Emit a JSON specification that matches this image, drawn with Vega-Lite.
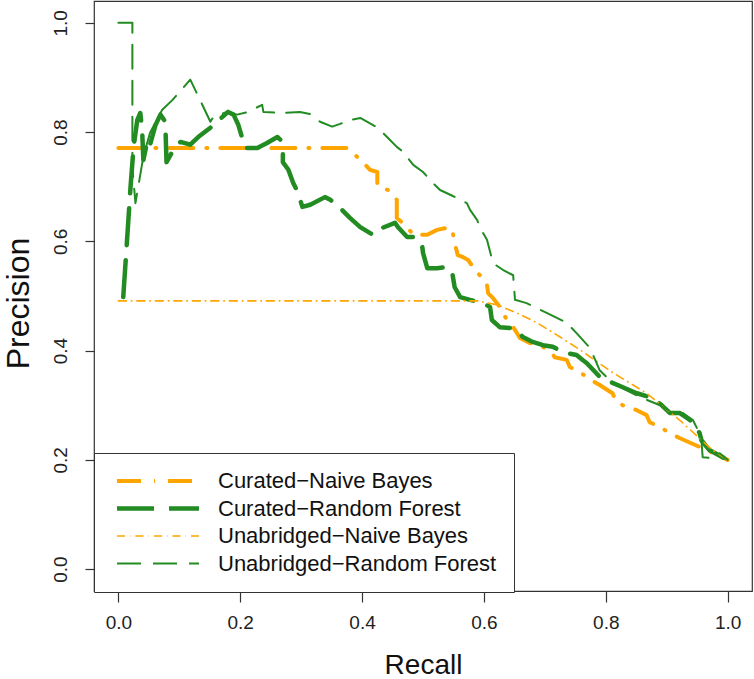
{
  "$schema": "https://vega.github.io/schema/vega-lite/v6.json",
  "width": 658,
  "height": 590,
  "autosize": {"type": "none"},
  "padding": {"left": 94, "top": 1, "right": 2, "bottom": 88},
  "config": {
    "font": "Liberation Sans",
    "view": {"stroke": "#333", "strokeWidth": 1.2}
  },
  "data": {
    "values": [
      {"series": "Curated−Naive Bayes", "recall": 0.0, "precision": 0.771},
      {"series": "Curated−Naive Bayes", "recall": 0.375, "precision": 0.771},
      {"series": "Curated−Naive Bayes", "recall": 0.385, "precision": 0.762},
      {"series": "Curated−Naive Bayes", "recall": 0.402, "precision": 0.744},
      {"series": "Curated−Naive Bayes", "recall": 0.413, "precision": 0.731},
      {"series": "Curated−Naive Bayes", "recall": 0.425, "precision": 0.727},
      {"series": "Curated−Naive Bayes", "recall": 0.425, "precision": 0.703},
      {"series": "Curated−Naive Bayes", "recall": 0.43, "precision": 0.698},
      {"series": "Curated−Naive Bayes", "recall": 0.443, "precision": 0.694},
      {"series": "Curated−Naive Bayes", "recall": 0.457, "precision": 0.676},
      {"series": "Curated−Naive Bayes", "recall": 0.457, "precision": 0.643},
      {"series": "Curated−Naive Bayes", "recall": 0.474, "precision": 0.626},
      {"series": "Curated−Naive Bayes", "recall": 0.484, "precision": 0.612},
      {"series": "Curated−Naive Bayes", "recall": 0.507, "precision": 0.612},
      {"series": "Curated−Naive Bayes", "recall": 0.523, "precision": 0.621},
      {"series": "Curated−Naive Bayes", "recall": 0.544, "precision": 0.626},
      {"series": "Curated−Naive Bayes", "recall": 0.549, "precision": 0.615},
      {"series": "Curated−Naive Bayes", "recall": 0.552, "precision": 0.597},
      {"series": "Curated−Naive Bayes", "recall": 0.557, "precision": 0.575},
      {"series": "Curated−Naive Bayes", "recall": 0.566, "precision": 0.571},
      {"series": "Curated−Naive Bayes", "recall": 0.574, "precision": 0.566},
      {"series": "Curated−Naive Bayes", "recall": 0.582, "precision": 0.553},
      {"series": "Curated−Naive Bayes", "recall": 0.589, "precision": 0.542},
      {"series": "Curated−Naive Bayes", "recall": 0.597, "precision": 0.535},
      {"series": "Curated−Naive Bayes", "recall": 0.605, "precision": 0.52},
      {"series": "Curated−Naive Bayes", "recall": 0.607, "precision": 0.505},
      {"series": "Curated−Naive Bayes", "recall": 0.615, "precision": 0.496},
      {"series": "Curated−Naive Bayes", "recall": 0.626, "precision": 0.48},
      {"series": "Curated−Naive Bayes", "recall": 0.631, "precision": 0.469},
      {"series": "Curated−Naive Bayes", "recall": 0.638, "precision": 0.456},
      {"series": "Curated−Naive Bayes", "recall": 0.648, "precision": 0.443},
      {"series": "Curated−Naive Bayes", "recall": 0.656, "precision": 0.429},
      {"series": "Curated−Naive Bayes", "recall": 0.659, "precision": 0.423},
      {"series": "Curated−Naive Bayes", "recall": 0.675, "precision": 0.414},
      {"series": "Curated−Naive Bayes", "recall": 0.692, "precision": 0.41},
      {"series": "Curated−Naive Bayes", "recall": 0.711, "precision": 0.397},
      {"series": "Curated−Naive Bayes", "recall": 0.716, "precision": 0.388},
      {"series": "Curated−Naive Bayes", "recall": 0.736, "precision": 0.383},
      {"series": "Curated−Naive Bayes", "recall": 0.741, "precision": 0.37},
      {"series": "Curated−Naive Bayes", "recall": 0.752, "precision": 0.364},
      {"series": "Curated−Naive Bayes", "recall": 0.769, "precision": 0.352},
      {"series": "Curated−Naive Bayes", "recall": 0.782, "precision": 0.342},
      {"series": "Curated−Naive Bayes", "recall": 0.79, "precision": 0.337},
      {"series": "Curated−Naive Bayes", "recall": 0.811, "precision": 0.322},
      {"series": "Curated−Naive Bayes", "recall": 0.818, "precision": 0.306},
      {"series": "Curated−Naive Bayes", "recall": 0.828, "precision": 0.3},
      {"series": "Curated−Naive Bayes", "recall": 0.851, "precision": 0.291},
      {"series": "Curated−Naive Bayes", "recall": 0.867, "precision": 0.282},
      {"series": "Curated−Naive Bayes", "recall": 0.872, "precision": 0.269},
      {"series": "Curated−Naive Bayes", "recall": 0.889, "precision": 0.26},
      {"series": "Curated−Naive Bayes", "recall": 0.905, "precision": 0.249},
      {"series": "Curated−Naive Bayes", "recall": 0.921, "precision": 0.24},
      {"series": "Curated−Naive Bayes", "recall": 0.943, "precision": 0.229},
      {"series": "Curated−Naive Bayes", "recall": 0.966, "precision": 0.218},
      {"series": "Curated−Naive Bayes", "recall": 1.0, "precision": 0.2},

      {"series": "Curated−Random Forest", "recall": 0.008, "precision": 0.498},
      {"series": "Curated−Random Forest", "recall": 0.015, "precision": 0.615},
      {"series": "Curated−Random Forest", "recall": 0.02, "precision": 0.7},
      {"series": "Curated−Random Forest", "recall": 0.025, "precision": 0.773},
      {"series": "Curated−Random Forest", "recall": 0.031, "precision": 0.822},
      {"series": "Curated−Random Forest", "recall": 0.036, "precision": 0.835},
      {"series": "Curated−Random Forest", "recall": 0.039, "precision": 0.804},
      {"series": "Curated−Random Forest", "recall": 0.041, "precision": 0.749},
      {"series": "Curated−Random Forest", "recall": 0.048, "precision": 0.786},
      {"series": "Curated−Random Forest", "recall": 0.052, "precision": 0.777},
      {"series": "Curated−Random Forest", "recall": 0.061, "precision": 0.813},
      {"series": "Curated−Random Forest", "recall": 0.069, "precision": 0.832},
      {"series": "Curated−Random Forest", "recall": 0.077, "precision": 0.819},
      {"series": "Curated−Random Forest", "recall": 0.079, "precision": 0.745},
      {"series": "Curated−Random Forest", "recall": 0.093, "precision": 0.773},
      {"series": "Curated−Random Forest", "recall": 0.102, "precision": 0.782},
      {"series": "Curated−Random Forest", "recall": 0.118, "precision": 0.777},
      {"series": "Curated−Random Forest", "recall": 0.131, "precision": 0.791},
      {"series": "Curated−Random Forest", "recall": 0.151, "precision": 0.808},
      {"series": "Curated−Random Forest", "recall": 0.18, "precision": 0.837},
      {"series": "Curated−Random Forest", "recall": 0.189, "precision": 0.832},
      {"series": "Curated−Random Forest", "recall": 0.197, "precision": 0.813},
      {"series": "Curated−Random Forest", "recall": 0.208, "precision": 0.771},
      {"series": "Curated−Random Forest", "recall": 0.228, "precision": 0.771},
      {"series": "Curated−Random Forest", "recall": 0.244, "precision": 0.78},
      {"series": "Curated−Random Forest", "recall": 0.261, "precision": 0.791},
      {"series": "Curated−Random Forest", "recall": 0.266, "precision": 0.786},
      {"series": "Curated−Random Forest", "recall": 0.27, "precision": 0.767},
      {"series": "Curated−Random Forest", "recall": 0.27, "precision": 0.745},
      {"series": "Curated−Random Forest", "recall": 0.279, "precision": 0.731},
      {"series": "Curated−Random Forest", "recall": 0.287, "precision": 0.707},
      {"series": "Curated−Random Forest", "recall": 0.295, "precision": 0.689},
      {"series": "Curated−Random Forest", "recall": 0.302, "precision": 0.663},
      {"series": "Curated−Random Forest", "recall": 0.315, "precision": 0.667},
      {"series": "Curated−Random Forest", "recall": 0.339, "precision": 0.681},
      {"series": "Curated−Random Forest", "recall": 0.348, "precision": 0.676},
      {"series": "Curated−Random Forest", "recall": 0.364, "precision": 0.661},
      {"series": "Curated−Random Forest", "recall": 0.38, "precision": 0.643},
      {"series": "Curated−Random Forest", "recall": 0.397, "precision": 0.626},
      {"series": "Curated−Random Forest", "recall": 0.418, "precision": 0.612},
      {"series": "Curated−Random Forest", "recall": 0.434, "precision": 0.625},
      {"series": "Curated−Random Forest", "recall": 0.454, "precision": 0.634},
      {"series": "Curated−Random Forest", "recall": 0.459, "precision": 0.626},
      {"series": "Curated−Random Forest", "recall": 0.474, "precision": 0.608},
      {"series": "Curated−Random Forest", "recall": 0.484, "precision": 0.608},
      {"series": "Curated−Random Forest", "recall": 0.498, "precision": 0.597},
      {"series": "Curated−Random Forest", "recall": 0.5, "precision": 0.579},
      {"series": "Curated−Random Forest", "recall": 0.507, "precision": 0.551},
      {"series": "Curated−Random Forest", "recall": 0.523, "precision": 0.551},
      {"series": "Curated−Random Forest", "recall": 0.541, "precision": 0.553},
      {"series": "Curated−Random Forest", "recall": 0.548, "precision": 0.542},
      {"series": "Curated−Random Forest", "recall": 0.552, "precision": 0.516},
      {"series": "Curated−Random Forest", "recall": 0.561, "precision": 0.498},
      {"series": "Curated−Random Forest", "recall": 0.577, "precision": 0.493},
      {"series": "Curated−Random Forest", "recall": 0.598, "precision": 0.487},
      {"series": "Curated−Random Forest", "recall": 0.61, "precision": 0.48},
      {"series": "Curated−Random Forest", "recall": 0.613, "precision": 0.456},
      {"series": "Curated−Random Forest", "recall": 0.626, "precision": 0.443},
      {"series": "Curated−Random Forest", "recall": 0.648, "precision": 0.441},
      {"series": "Curated−Random Forest", "recall": 0.664, "precision": 0.425},
      {"series": "Curated−Random Forest", "recall": 0.68, "precision": 0.416},
      {"series": "Curated−Random Forest", "recall": 0.697, "precision": 0.41},
      {"series": "Curated−Random Forest", "recall": 0.713, "precision": 0.407},
      {"series": "Curated−Random Forest", "recall": 0.73, "precision": 0.397},
      {"series": "Curated−Random Forest", "recall": 0.752, "precision": 0.392},
      {"series": "Curated−Random Forest", "recall": 0.762, "precision": 0.383},
      {"series": "Curated−Random Forest", "recall": 0.769, "precision": 0.377},
      {"series": "Curated−Random Forest", "recall": 0.79, "precision": 0.352},
      {"series": "Curated−Random Forest", "recall": 0.811, "precision": 0.341},
      {"series": "Curated−Random Forest", "recall": 0.828, "precision": 0.333},
      {"series": "Curated−Random Forest", "recall": 0.851, "precision": 0.322},
      {"series": "Curated−Random Forest", "recall": 0.877, "precision": 0.313},
      {"series": "Curated−Random Forest", "recall": 0.892, "precision": 0.3},
      {"series": "Curated−Random Forest", "recall": 0.905, "precision": 0.286},
      {"series": "Curated−Random Forest", "recall": 0.921, "precision": 0.286},
      {"series": "Curated−Random Forest", "recall": 0.938, "precision": 0.273},
      {"series": "Curated−Random Forest", "recall": 0.946, "precision": 0.264},
      {"series": "Curated−Random Forest", "recall": 0.954, "precision": 0.249},
      {"series": "Curated−Random Forest", "recall": 0.957, "precision": 0.236},
      {"series": "Curated−Random Forest", "recall": 0.97, "precision": 0.218},
      {"series": "Curated−Random Forest", "recall": 1.0, "precision": 0.2},

      {"series": "Unabridged−Naive Bayes", "recall": 0.0, "precision": 0.491},
      {"series": "Unabridged−Naive Bayes", "recall": 0.59, "precision": 0.491},
      {"series": "Unabridged−Naive Bayes", "recall": 0.621, "precision": 0.484},
      {"series": "Unabridged−Naive Bayes", "recall": 0.654, "precision": 0.469},
      {"series": "Unabridged−Naive Bayes", "recall": 0.687, "precision": 0.451},
      {"series": "Unabridged−Naive Bayes", "recall": 0.725, "precision": 0.425},
      {"series": "Unabridged−Naive Bayes", "recall": 0.757, "precision": 0.402},
      {"series": "Unabridged−Naive Bayes", "recall": 0.811, "precision": 0.36},
      {"series": "Unabridged−Naive Bayes", "recall": 0.867, "precision": 0.322},
      {"series": "Unabridged−Naive Bayes", "recall": 0.921, "precision": 0.273},
      {"series": "Unabridged−Naive Bayes", "recall": 0.975, "precision": 0.218},
      {"series": "Unabridged−Naive Bayes", "recall": 1.0, "precision": 0.2},

      {"series": "Unabridged−Random Forest", "recall": 0.0, "precision": 1.0},
      {"series": "Unabridged−Random Forest", "recall": 0.023, "precision": 1.0},
      {"series": "Unabridged−Random Forest", "recall": 0.023, "precision": 0.736},
      {"series": "Unabridged−Random Forest", "recall": 0.028, "precision": 0.67},
      {"series": "Unabridged−Random Forest", "recall": 0.041, "precision": 0.755},
      {"series": "Unabridged−Random Forest", "recall": 0.052, "precision": 0.799},
      {"series": "Unabridged−Random Forest", "recall": 0.072, "precision": 0.841},
      {"series": "Unabridged−Random Forest", "recall": 0.089, "precision": 0.859},
      {"series": "Unabridged−Random Forest", "recall": 0.118, "precision": 0.896},
      {"series": "Unabridged−Random Forest", "recall": 0.134, "precision": 0.859},
      {"series": "Unabridged−Random Forest", "recall": 0.151, "precision": 0.819},
      {"series": "Unabridged−Random Forest", "recall": 0.156, "precision": 0.828},
      {"series": "Unabridged−Random Forest", "recall": 0.179, "precision": 0.837},
      {"series": "Unabridged−Random Forest", "recall": 0.195, "precision": 0.832},
      {"series": "Unabridged−Random Forest", "recall": 0.213, "precision": 0.837},
      {"series": "Unabridged−Random Forest", "recall": 0.236, "precision": 0.85},
      {"series": "Unabridged−Random Forest", "recall": 0.238, "precision": 0.837},
      {"series": "Unabridged−Random Forest", "recall": 0.27, "precision": 0.835},
      {"series": "Unabridged−Random Forest", "recall": 0.298, "precision": 0.837},
      {"series": "Unabridged−Random Forest", "recall": 0.315, "precision": 0.833},
      {"series": "Unabridged−Random Forest", "recall": 0.331, "precision": 0.819},
      {"series": "Unabridged−Random Forest", "recall": 0.351, "precision": 0.81},
      {"series": "Unabridged−Random Forest", "recall": 0.364, "precision": 0.815},
      {"series": "Unabridged−Random Forest", "recall": 0.38, "precision": 0.822},
      {"series": "Unabridged−Random Forest", "recall": 0.397, "precision": 0.826},
      {"series": "Unabridged−Random Forest", "recall": 0.408, "precision": 0.819},
      {"series": "Unabridged−Random Forest", "recall": 0.426, "precision": 0.808},
      {"series": "Unabridged−Random Forest", "recall": 0.441, "precision": 0.791},
      {"series": "Unabridged−Random Forest", "recall": 0.457, "precision": 0.773},
      {"series": "Unabridged−Random Forest", "recall": 0.467, "precision": 0.764},
      {"series": "Unabridged−Random Forest", "recall": 0.484, "precision": 0.74},
      {"series": "Unabridged−Random Forest", "recall": 0.5, "precision": 0.727},
      {"series": "Unabridged−Random Forest", "recall": 0.516, "precision": 0.707},
      {"series": "Unabridged−Random Forest", "recall": 0.528, "precision": 0.694},
      {"series": "Unabridged−Random Forest", "recall": 0.549, "precision": 0.683},
      {"series": "Unabridged−Random Forest", "recall": 0.572, "precision": 0.67},
      {"series": "Unabridged−Random Forest", "recall": 0.577, "precision": 0.658},
      {"series": "Unabridged−Random Forest", "recall": 0.589, "precision": 0.639},
      {"series": "Unabridged−Random Forest", "recall": 0.593, "precision": 0.626},
      {"series": "Unabridged−Random Forest", "recall": 0.605, "precision": 0.603},
      {"series": "Unabridged−Random Forest", "recall": 0.615, "precision": 0.56},
      {"series": "Unabridged−Random Forest", "recall": 0.631, "precision": 0.548},
      {"series": "Unabridged−Random Forest", "recall": 0.648, "precision": 0.538},
      {"series": "Unabridged−Random Forest", "recall": 0.651, "precision": 0.493},
      {"series": "Unabridged−Random Forest", "recall": 0.67, "precision": 0.487},
      {"series": "Unabridged−Random Forest", "recall": 0.703, "precision": 0.469},
      {"series": "Unabridged−Random Forest", "recall": 0.736, "precision": 0.451},
      {"series": "Unabridged−Random Forest", "recall": 0.752, "precision": 0.432},
      {"series": "Unabridged−Random Forest", "recall": 0.774, "precision": 0.405},
      {"series": "Unabridged−Random Forest", "recall": 0.785, "precision": 0.377},
      {"series": "Unabridged−Random Forest", "recall": 0.79, "precision": 0.364},
      {"series": "Unabridged−Random Forest", "recall": 0.811, "precision": 0.341},
      {"series": "Unabridged−Random Forest", "recall": 0.856, "precision": 0.315},
      {"series": "Unabridged−Random Forest", "recall": 0.889, "precision": 0.3},
      {"series": "Unabridged−Random Forest", "recall": 0.91, "precision": 0.286},
      {"series": "Unabridged−Random Forest", "recall": 0.926, "precision": 0.286},
      {"series": "Unabridged−Random Forest", "recall": 0.943, "precision": 0.273},
      {"series": "Unabridged−Random Forest", "recall": 0.951, "precision": 0.255},
      {"series": "Unabridged−Random Forest", "recall": 0.957, "precision": 0.236},
      {"series": "Unabridged−Random Forest", "recall": 0.959, "precision": 0.205},
      {"series": "Unabridged−Random Forest", "recall": 0.975, "precision": 0.203},
      {"series": "Unabridged−Random Forest", "recall": 0.987, "precision": 0.212},
      {"series": "Unabridged−Random Forest", "recall": 1.0, "precision": 0.2}
    ]
  },
  "mark": {"type": "line", "strokeCap": "round", "strokeJoin": "round"},
  "encoding": {
    "x": {
      "field": "recall", "type": "quantitative",
      "scale": {"domain": [-0.04, 1.04], "nice": false, "zero": false},
      "axis": {
        "title": "Recall", "values": [0, 0.2, 0.4, 0.6, 0.8, 1], "format": ".1f",
        "domain": false, "grid": false, "tickSize": 11, "tickColor": "#333", "tickWidth": 1.2,
        "labelFontSize": 19, "labelColor": "#222", "labelPadding": 11,
        "titleFontSize": 28, "titleFontWeight": "normal", "titleColor": "#111", "titlePadding": 19
      }
    },
    "y": {
      "field": "precision", "type": "quantitative",
      "scale": {"domain": [-0.04, 1.04], "nice": false, "zero": false},
      "axis": {
        "title": "Precision", "values": [0, 0.2, 0.4, 0.6, 0.8, 1], "format": ".1f",
        "domain": false, "grid": false, "tickSize": 9, "tickColor": "#333", "tickWidth": 1.2,
        "labelFontSize": 19, "labelColor": "#222", "labelAngle": -90, "labelAlign": "center", "labelBaseline": "bottom", "labelPadding": 15,
        "titleFontSize": 32, "titleFontWeight": "normal", "titleColor": "#111", "titlePadding": 16, "titleY": 302
      }
    },
    "order": {"value": null},
    "color": {
      "field": "series", "type": "nominal",
      "scale": {
        "domain": ["Curated−Naive Bayes", "Curated−Random Forest", "Unabridged−Naive Bayes", "Unabridged−Random Forest"],
        "range": ["#FFA500", "#228B22", "#FFA500", "#228B22"]
      },
      "legend": {
        "title": null, "orient": "none", "legendX": 0, "legendY": 452,
        "strokeColor": "#333", "fillColor": "white", "padding": 17, "rowPadding": 5.5,
        "symbolType": "M-8,0H8", "symbolSize": 105, "symbolOffset": 36, "labelOffset": 49,
        "labelFontSize": 22, "labelColor": "#111", "labelLimit": 400
      }
    },
    "strokeDash": {
      "field": "series", "type": "nominal",
      "scale": {
        "type": "ordinal",
        "domain": ["Curated−Naive Bayes", "Curated−Random Forest", "Unabridged−Naive Bayes", "Unabridged−Random Forest"],
        "range": [[24, 13, 1, 13], [37, 15], [8, 5, 0.5, 5], [24, 12]]
      }
    },
    "strokeWidth": {
      "field": "series", "type": "nominal",
      "scale": {
        "type": "ordinal",
        "domain": ["Curated−Naive Bayes", "Curated−Random Forest", "Unabridged−Naive Bayes", "Unabridged−Random Forest"],
        "range": [4, 4.5, 1.6, 2]
      }
    }
  }
}
